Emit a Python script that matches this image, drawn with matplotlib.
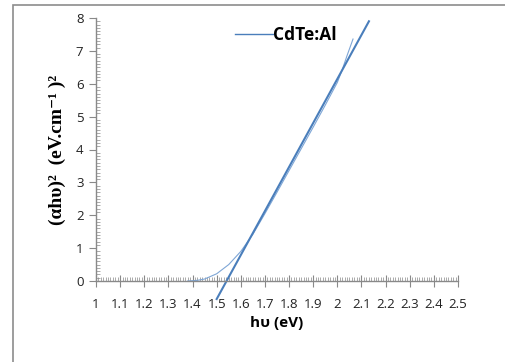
import numpy as np
import matplotlib
matplotlib.use('Agg')
import matplotlib.pyplot as plt
from matplotlib.patches import Rectangle
from matplotlib.ticker import MultipleLocator

# measured curve: photon energy (eV) vs (alpha h nu)^2
hv = [1.38, 1.42, 1.45, 1.5, 1.55, 1.6, 1.65, 1.7, 1.75, 1.8, 1.85, 1.9,
      1.95, 2.0, 2.02, 2.04, 2.065]
ahv2 = [0.0, 0.02, 0.06, 0.22, 0.5, 0.9, 1.42, 2.05, 2.7, 3.36, 4.02, 4.68,
        5.35, 6.04, 6.42, 6.85, 7.36]

# linear fit (Tauc extrapolation)
fit_slope = 13.39
fit_x0 = 1.541   # intercept with the hv axis
fit_range = [1.5, 2.131]

xticks = [1, 1.1, 1.2, 1.3, 1.4, 1.5, 1.6, 1.7, 1.8, 1.9, 2, 2.1, 2.2, 2.3, 2.4, 2.5]
xticklabels = ['1', '1.1', '1.2', '1.3', '1.4', '1.5', '1.6', '1.7', '1.8', '1.9',
               '2', '2.1', '2.2', '2.3', '2.4', '2.5']

sans = ['Open Sans', 'DejaVu Sans']
serif = ['Liberation Serif', 'DejaVu Serif']
grey = '#898989'

fig = plt.figure(figsize=(5.05, 3.62), dpi=100)
fig.patches.append(Rectangle((13/505, -0.05), 1.0, 1.05 - 5/362, transform=fig.transFigure,
                             fill=False, edgecolor='#8c8c8c', linewidth=1.2))
ax = fig.add_axes([96/505, 1 - 281/362, (458 - 96)/505, (281 - 18)/362])

ax.plot(hv, ahv2, color='#7ea6d6', linewidth=0.8)
fx = np.array(fit_range)
ax.plot(fx, fit_slope * (fx - fit_x0), color='#4a7ebb', linewidth=1.5,
        clip_on=False, label='CdTe:Al')

ax.set_xlim(1, 2.5)
ax.set_ylim(0, 8)
ax.set_xticks(xticks)
ax.set_xticklabels(xticklabels)
ax.xaxis.set_minor_locator(MultipleLocator(0.01))
ax.yaxis.set_minor_locator(MultipleLocator(0.1))
ax.set_yticks(range(0, 9))

for s in ['top', 'right']:
    ax.spines[s].set_visible(False)
for s in ['left', 'bottom']:
    ax.spines[s].set_color(grey)
    ax.spines[s].set_linewidth(1.0)

ax.tick_params(axis='x', which='major', direction='inout', length=8, width=0.8, color=grey,
               labelsize=9.5, pad=8, labelcolor='#222222')
ax.tick_params(axis='x', which='minor', direction='in', length=3, width=0.5, color=grey)
ax.tick_params(axis='y', which='major', direction='out', length=5, width=0.8, color=grey,
               labelsize=9.5, pad=4, labelcolor='#222222')
ax.tick_params(axis='y', which='minor', direction='in', length=3, width=0.5, color=grey)
for lbl in ax.get_xticklabels() + ax.get_yticklabels():
    lbl.set_family(sans)

ax.set_xlabel('hυ (eV)', fontsize=11, fontweight='bold', family=sans, labelpad=4)
ax.set_ylabel('(αhυ)²  (eV.cm⁻¹ )²', fontsize=14, fontweight='bold', family=serif, labelpad=7)

leg = ax.legend(loc='upper left', bbox_to_anchor=(0.365, 0.995), frameon=False,
                handlelength=2.2, handletextpad=0.0, borderaxespad=0,
                prop={'family': sans, 'weight': 'bold', 'size': 12.5})
leg.get_lines()[0].set_linewidth(1.0)

fig.savefig('out.png', dpi=100)
